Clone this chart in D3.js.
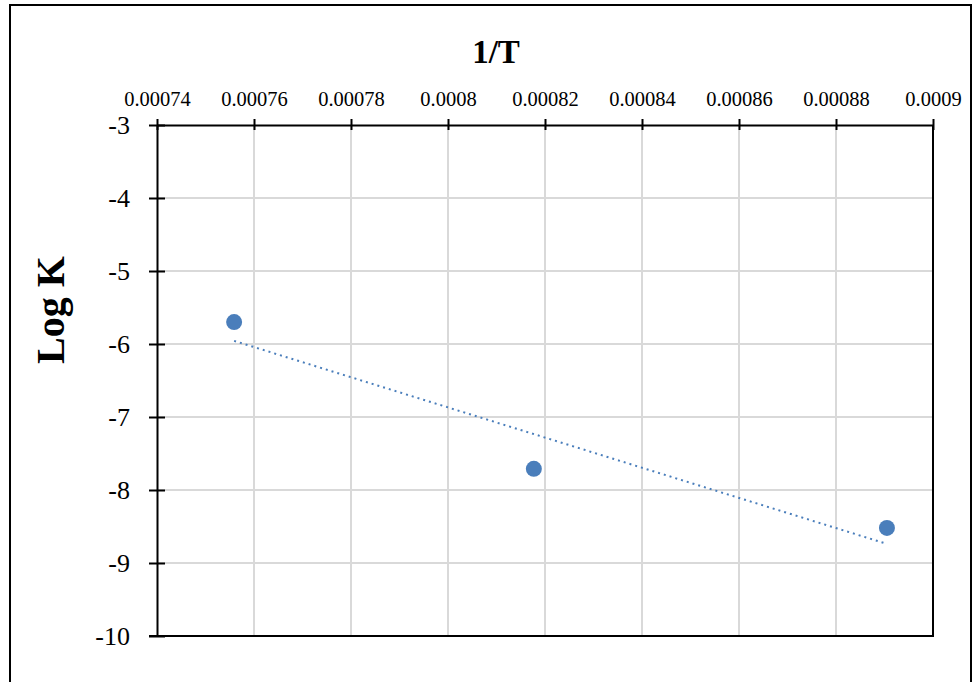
<!DOCTYPE html>
<html>
<head>
<meta charset="utf-8">
<script src="https://cdn.jsdelivr.net/npm/d3@7"></script>
<style>
  html, body { margin: 0; padding: 0; background: #fff; }
  svg { display: block; }
</style>
</head>
<body>
<svg id="chart" width="972" height="682"></svg>
<script>
// Arrhenius-style data: inverse temperature vs. log of rate constant
const invT = [0.0007559, 0.0008177, 0.0008905];
const logK = [-5.70, -7.71, -8.52];
const xTicks = [0.00074, 0.00076, 0.00078, 0.0008, 0.00082, 0.00084, 0.00086, 0.00088, 0.0009];
const yTicks = [-3, -4, -5, -6, -7, -8, -9, -10];

const svg = d3.select("#chart");
const plotLeft = 157, plotRight = 933, plotTop = 125, plotBottom = 636;
const serif = "'Liberation Serif', 'Times New Roman', serif";

const x = d3.scaleLinear().domain([0.00074, 0.0009]).range([plotLeft, plotRight]);
const y = d3.scaleLinear().domain([-10, -3]).range([plotBottom, plotTop]);

// outer frame
svg.append("rect")
  .attr("x", 10).attr("y", 5).attr("width", 961).attr("height", 700)
  .attr("fill", "none").attr("stroke", "#000").attr("stroke-width", 2);

// gridlines
svg.append("g").selectAll("line").data(xTicks.slice(1, -1)).join("line")
  .attr("x1", d => x(d)).attr("x2", d => x(d))
  .attr("y1", plotTop).attr("y2", plotBottom)
  .attr("stroke", "#d9d9d9").attr("stroke-width", 2);
svg.append("g").selectAll("line").data(yTicks.slice(1, -1)).join("line")
  .attr("x1", plotLeft).attr("x2", plotRight)
  .attr("y1", d => y(d)).attr("y2", d => y(d))
  .attr("stroke", "#d9d9d9").attr("stroke-width", 2);

// right border of plot area
svg.append("line")
  .attr("x1", plotRight).attr("x2", plotRight).attr("y1", plotTop).attr("y2", plotBottom)
  .attr("stroke", "#000").attr("stroke-width", 2);

// x axis on top, ticks crossing the line
const xAxis = svg.append("g")
  .attr("transform", `translate(0,${plotTop})`)
  .call(d3.axisTop(x).tickValues(xTicks).tickFormat(d => String(+d.toPrecision(6))).tickSizeInner(6).tickSizeOuter(0));
xAxis.select(".domain").attr("stroke", "#000").attr("stroke-width", 2);
xAxis.selectAll(".tick line").attr("stroke", "#000").attr("stroke-width", 2).attr("y2", 5).attr("y1", -6);
xAxis.selectAll(".tick text")
  .attr("y", -19).attr("dy", null)
  .attr("font-family", serif)
  .attr("font-size", 20.5).attr("fill", "#000");

// y axis on left, ticks crossing the line
const yAxis = svg.append("g")
  .attr("transform", `translate(${plotLeft},0)`)
  .call(d3.axisLeft(y).tickValues(yTicks).tickFormat(d => String(d)).tickSizeInner(7).tickSizeOuter(0));
yAxis.select(".domain").attr("stroke", "#000").attr("stroke-width", 2);
yAxis.selectAll(".tick line").attr("stroke", "#000").attr("stroke-width", 2).attr("x1", 8).attr("x2", -8);
yAxis.selectAll(".tick text")
  .attr("x", -27).attr("dy", "0.34em")
  .attr("font-family", serif)
  .attr("font-size", 26).attr("fill", "#000");

// bottom border of plot area
svg.append("line")
  .attr("x1", plotLeft - 8).attr("x2", plotRight + 1).attr("y1", plotBottom).attr("y2", plotBottom)
  .attr("stroke", "#000").attr("stroke-width", 2);

// linear trendline (least squares)
const mx = d3.mean(invT), my = d3.mean(logK);
let sxy = 0, sxx = 0;
invT.forEach((v, i) => { sxy += (v - mx) * (logK[i] - my); sxx += (v - mx) * (v - mx); });
const slope = sxy / sxx, icpt = my - slope * mx;
const xEnds = d3.extent(invT);
svg.append("line")
  .attr("x1", x(xEnds[0])).attr("y1", y(slope * xEnds[0] + icpt))
  .attr("x2", x(xEnds[1])).attr("y2", y(slope * xEnds[1] + icpt))
  .attr("stroke", "#4a7ebb").attr("stroke-width", 2)
  .attr("stroke-dasharray", "2,4");

// data points
svg.append("g").selectAll("circle").data(invT).join("circle")
  .attr("cx", d => x(d)).attr("cy", (d, i) => y(logK[i]))
  .attr("r", 8).attr("fill", "#4a7ebb");

// axis titles
svg.append("text")
  .attr("x", 496).attr("y", 63).attr("text-anchor", "middle")
  .attr("font-family", serif)
  .attr("font-weight", "bold").attr("font-size", 33).attr("fill", "#000")
  .text("1/T");
svg.append("text")
  .attr("transform", "translate(64,310) rotate(-90)")
  .attr("text-anchor", "middle")
  .attr("font-family", serif)
  .attr("font-weight", "bold").attr("font-size", 40).attr("fill", "#000")
  .text("Log K");
</script>
</body>
</html>
